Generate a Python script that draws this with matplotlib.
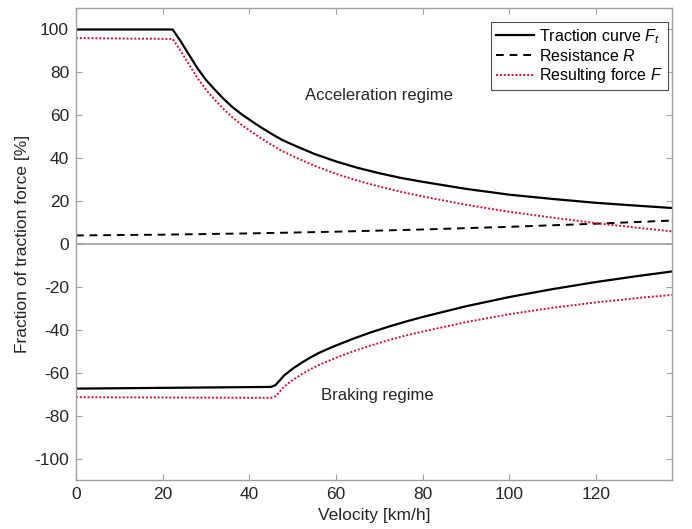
import matplotlib
matplotlib.use("Agg")
import matplotlib.pyplot as plt

plt.rcParams['font.family'] = ['Liberation Sans', 'DejaVu Sans']
plt.rcParams['mathtext.fontset'] = 'custom'
plt.rcParams['mathtext.it'] = 'Liberation Sans:italic'
plt.rcParams['mathtext.rm'] = 'Liberation Sans'
plt.rcParams['axes.unicode_minus'] = False

# Traction side (velocity in km/h, force in %)
v_acc = [0, 22.3, 24, 26, 28, 30, 32, 34, 36, 38, 40, 42.5, 45, 47.5, 50, 55, 60, 65, 70, 75,
         80, 90, 100, 110, 120, 130, 137.5]
traction = [100, 100, 95, 88.5, 82, 76.5, 72, 67.8, 64, 60.8, 58, 54.6, 51.5, 48.6, 46.3, 42,
            38.5, 35.5, 33, 30.8, 29, 25.7, 23, 21, 19.2, 17.8, 16.8]
resulting_acc = [96, 95.6, 90.5, 84.0, 77.4, 71.9, 67.3, 63.0, 59.2, 55.9, 53.0, 49.6, 46.4,
                 43.4, 41.0, 36.5, 32.7, 29.5, 26.8, 24.3, 22.2, 18.3, 15.0, 12.3, 9.7, 7.5, 5.9]

# Resistance
v_res = [0, 20, 40, 60, 80, 100, 120, 137.5]
resistance = [4.0, 4.36, 4.95, 5.75, 6.78, 8.02, 9.48, 10.95]

# Braking side
v_brk = [0, 45, 46, 47, 48, 50, 52, 54, 56, 58, 60, 64, 68, 72, 76, 80, 90, 100, 110, 120,
         130, 137.5]
braking = [-67.4, -66.6, -65.8, -63.6, -61.3, -58.1, -55.4, -53.0, -50.8, -49.0, -47.3, -44.1,
           -41.2, -38.6, -36.2, -34.0, -29.0, -24.7, -21.0, -17.7, -14.8, -12.8]
resulting_brk = [-71.4, -71.7, -71.0, -68.8, -66.5, -63.4, -60.8, -58.5, -56.4, -54.7, -53.0,
                 -50.0, -47.3, -44.9, -42.7, -40.8, -36.4, -32.7, -29.7, -27.2, -25.1, -23.7]

red = '#d8102c'
grey = '#a0a0a0'

fig = plt.figure(figsize=(6.92, 5.29), dpi=100)
ax = fig.add_axes([0.1098, 0.0926, 0.8612, 0.8922])

ax.axhline(0, color=grey, lw=1.2, zorder=1)

ax.plot(v_acc, traction, color='black', lw=1.6, label='Traction curve $F_t$')
ax.plot(v_res, resistance, color='black', lw=1.4, ls=(0, (4, 3)), label='Resistance $R$')
ax.plot(v_acc, resulting_acc, color=red, lw=1.4, ls=(0, (1, 1)), label='Resulting force $F$')
ax.plot(v_brk, braking, color='black', lw=1.6)
ax.plot(v_brk, resulting_brk, color=red, lw=1.4, ls=(0, (1, 1)))

ax.text(70, 69, 'Acceleration regime', ha='center', va='center', fontsize=12, color='#262626')
ax.text(69.6, -70.7, 'Braking regime', ha='center', va='center', fontsize=12, color='#262626')

ax.set_xlim(0, 137.5)
ax.set_ylim(-110, 110)
ax.set_xticks(range(0, 121, 20))
ax.set_yticks(range(-100, 101, 20))
ax.tick_params(direction='in', top=True, right=True, length=4, labelsize=12.5, pad=5,
               color=grey, labelcolor='#262626')
for s in ax.spines.values():
    s.set_color(grey)
    s.set_linewidth(1.0)

ax.set_xlabel('Velocity [km/h]', fontsize=12.5, color='#262626', labelpad=4)
ax.set_ylabel('Fraction of traction force [%]', fontsize=12.5, color='#262626', labelpad=3)

leg = ax.legend(loc='upper right', bbox_to_anchor=(0.993, 0.970), fontsize=11.5, frameon=True,
                fancybox=False, handlelength=2.4, handletextpad=0.3, borderpad=0.3,
                labelspacing=0.15, borderaxespad=0)
leg.get_frame().set_edgecolor('#262626')
leg.get_frame().set_linewidth(0.8)

fig.savefig('out.png', dpi=100)
